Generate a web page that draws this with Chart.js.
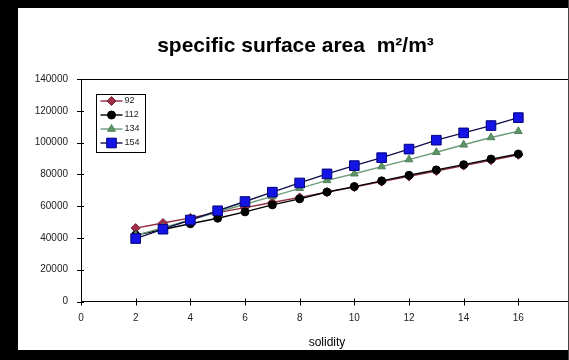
<!DOCTYPE html>
<html>
<head>
<meta charset="utf-8">
<script src="https://cdn.jsdelivr.net/npm/chart.js@4/dist/chart.umd.min.js"></script>
<style>
  html, body { margin: 0; padding: 0; background: #000; }
  #frame { position: absolute; left: 0; top: 0; width: 569px; height: 360px; background: #000; overflow: hidden; }
  #inner { position: absolute; left: 18px; top: 8px; width: 570px; height: 342px; background: #fff; }
  #edge { position: absolute; right: 0; top: 0; width: 1px; height: 360px; background: #444; }
  canvas { display: block; }
</style>
</head>
<body>
<div id="frame">
  <div id="inner"><canvas id="c" width="570" height="342"></canvas></div>
  <div id="edge"></div>
</div>
<script>
// solidity values on the x axis
const solidity = [2, 3, 4, 5, 6, 7, 8, 9, 10, 11, 12, 13, 14, 15, 16];

// specific surface area (m²/m³) for each series
const s92  = [46200, 49400, 52600, 55900, 59100, 62300, 65500, 68800, 72000, 75400, 78700, 82100, 85500, 88900, 92300];
const s112 = [41800, 45300, 48900, 52400, 56400, 60800, 64600, 68900, 72300, 75900, 79400, 82800, 86100, 89600, 92800];
const s134 = [41600, 46500, 51400, 56300, 61200, 66100, 71200, 76200, 80400, 84900, 89300, 93900, 98600, 103200, 107100];
const s154 = [39600, 45500, 51300, 57100, 62900, 68800, 74600, 80300, 85500, 90500, 95900, 101500, 106100, 110700, 115700];

const seriesNames = ['92', '112', '134', '154'];
const xTicks = [0, 2, 4, 6, 8, 10, 12, 14, 16, 18];
const yTicks = [0, 20000, 40000, 60000, 80000, 100000, 120000, 140000];

const styles = [
  { line: '#8E2A3E', fill: '#A0304A', edge: '#7A2030', shape: 'rectRot', r: 4.5 },
  { line: '#000000', fill: '#000000', edge: '#000000', shape: 'circle', r: 4 },
  { line: '#6E9C78', fill: '#5E9468', edge: '#4E8458', shape: 'triangle', r: 4.5 },
  { line: '#10104A', fill: '#1414E6', edge: '#00007A', shape: 'rect', r: 6.8 }
];
const values = [s92, s112, s134, s154];

const datasets = values.map((vals, i) => ({
  label: seriesNames[i],
  data: solidity.map((x, j) => ({ x: x, y: vals[j] })),
  borderColor: styles[i].line,
  borderWidth: 1.4,
  backgroundColor: styles[i].fill,
  pointStyle: styles[i].shape,
  pointRadius: styles[i].r,
  pointBackgroundColor: styles[i].fill,
  pointBorderColor: styles[i].edge,
  pointBorderWidth: 1,
  showLine: true,
  tension: 0,
  order: 3 - i
}));

function drawMarker(ctx, shape, r, x, y) {
  if (shape === 'circle') {
    ctx.arc(x, y, r, 0, Math.PI * 2);
  } else if (shape === 'rect') {
    const s = r * Math.SQRT1_2;
    ctx.rect(x - s, y - s, 2 * s, 2 * s);
  } else if (shape === 'rectRot') {
    ctx.moveTo(x, y - r); ctx.lineTo(x + r, y); ctx.lineTo(x, y + r); ctx.lineTo(x - r, y); ctx.closePath();
  } else {
    ctx.moveTo(x, y - r); ctx.lineTo(x + r * 0.87, y + r * 0.5); ctx.lineTo(x - r * 0.87, y + r * 0.5); ctx.closePath();
  }
}

// plot-area top rule, tick marks crossing both axes, and the boxed legend
const plotDecor = {
  id: 'plotDecor',
  afterDraw(chart) {
    const ctx = chart.ctx;
    const a = chart.chartArea;
    const xs = chart.scales.x, ys = chart.scales.y;
    ctx.save();
    ctx.strokeStyle = '#000';
    ctx.lineWidth = 1;
    ctx.beginPath();
    ctx.moveTo(a.left, a.top + 0.5);
    ctx.lineTo(a.right + 10, a.top + 0.5);
    ys.ticks.forEach(t => {
      const y = Math.round(ys.getPixelForValue(t.value)) + 0.5;
      ctx.moveTo(a.left - 4, y);
      ctx.lineTo(a.left + 3, y);
    });
    xs.ticks.forEach(t => {
      const x = Math.round(xs.getPixelForValue(t.value)) + 0.5;
      ctx.moveTo(x, a.bottom - 3);
      ctx.lineTo(x, a.bottom + 4);
    });
    ctx.stroke();

    const bx = a.left + 15.5, by = a.top + 15.5, bw = 49, bh = 58;
    ctx.fillStyle = '#fff';
    ctx.fillRect(bx, by, bw, bh);
    ctx.strokeRect(bx, by, bw, bh);
    ctx.font = '9px "Liberation Sans", Arial, sans-serif';
    ctx.textBaseline = 'middle';
    ctx.textAlign = 'left';
    seriesNames.forEach((name, i) => {
      const y = by + 6.5 + i * 14;
      const st = styles[i];
      ctx.strokeStyle = st.line;
      ctx.lineWidth = 1.4;
      ctx.beginPath();
      ctx.moveTo(bx + 4, y);
      ctx.lineTo(bx + 26, y);
      ctx.stroke();
      ctx.fillStyle = st.fill;
      ctx.strokeStyle = st.edge;
      ctx.lineWidth = 1;
      ctx.beginPath();
      drawMarker(ctx, st.shape, st.r, bx + 15, y);
      ctx.fill();
      ctx.stroke();
      ctx.fillStyle = '#222';
      ctx.fillText(name, bx + 28, y);
    });
    ctx.restore();
  }
};

const fam = '"Liberation Sans", Arial, sans-serif';

new Chart(document.getElementById('c'), {
  type: 'scatter',
  data: { datasets: datasets },
  plugins: [plotDecor],
  options: {
    responsive: false,
    animation: false,
    devicePixelRatio: 1,
    layout: { padding: { left: 0, right: 15, top: 0, bottom: 0 } },
    plugins: {
      legend: { display: false },
      tooltip: { enabled: false },
      title: {
        display: true,
        text: 'specific surface area  m²/m³',
        color: '#000',
        font: { family: fam, size: 21, weight: 'bold' },
        padding: { top: 25.5, bottom: 20.3 }
      }
    },
    scales: {
      x: {
        type: 'linear',
        min: 0, max: 18,
        afterBuildTicks(scale) { scale.ticks = xTicks.map(v => ({ value: v })); },
        afterFit(scale) { scale.height = 48.5; scale.paddingRight = 0; scale.paddingLeft = 0; },
        ticks: { color: '#222', font: { family: fam, size: 10 }, padding: 11, callback: v => String(v) },
        grid: { drawOnChartArea: false, drawTicks: false, tickLength: 4, color: '#000' },
        border: { display: true, color: '#000', width: 1 },
        title: {
          display: true, text: 'solidity', color: '#000',
          font: { family: fam, size: 12 },
          padding: { top: 0, bottom: 0 }
        }
      },
      y: {
        type: 'linear',
        min: 0, max: 140000,
        afterBuildTicks(scale) { scale.ticks = yTicks.map(v => ({ value: v })); },
        afterFit(scale) { scale.width = 63; },
        ticks: { color: '#222', font: { family: fam, size: 10 }, padding: 13, callback: v => String(v) },
        grid: { drawOnChartArea: false, drawTicks: false, tickLength: 4, color: '#000' },
        border: { display: true, color: '#000', width: 1 }
      }
    }
  }
});
</script>
</body>
</html>
